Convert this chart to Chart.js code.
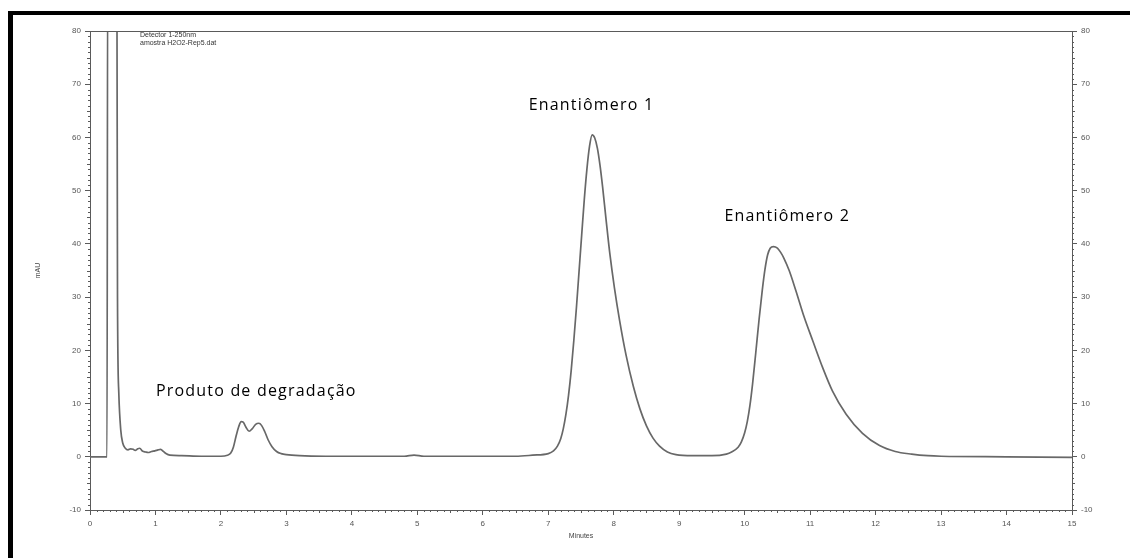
<!DOCTYPE html>
<html>
<head>
<meta charset="utf-8">
<script src="https://cdn.jsdelivr.net/npm/chart.js@4.4.1/dist/chart.umd.min.js"></script>
<style>
  html, body { margin: 0; padding: 0; background: #fff; }
  #wrap { position: relative; width: 1130px; height: 558px; overflow: hidden; }
  #frame { position: absolute; left: 8px; top: 11px; right: 0; bottom: 0;
           border-left: 5px solid #000; border-top: 4px solid #000; pointer-events: none; }
  canvas { display: block; }
</style>
</head>
<body>
<div id="wrap">
  <canvas id="chrom" width="1130" height="558"></canvas>
  <div id="frame"></div>
</div>
<script>
// Chromatogram trace: retention time (min) and detector response (mAU)
const retentionTime = [
  0, 0.26, 0.27, 0.41, 0.42, 0.44, 0.47, 0.50, 0.54, 0.58, 0.62, 0.66, 0.69, 0.73, 0.76,
  0.80, 0.85, 0.89, 0.94, 0.99, 1.04, 1.08, 1.12, 1.16, 1.22, 1.40, 1.70, 2.00,
  2.10, 2.15, 2.19, 2.23, 2.27, 2.31, 2.34, 2.38, 2.43, 2.48, 2.53, 2.58, 2.62, 2.67,
  2.72, 2.78, 2.85, 2.92, 3.00, 3.20, 3.60, 4.00, 4.80, 4.95, 5.10, 6.00, 6.50,
  6.76, 7.00, 7.08, 7.14, 7.19, 7.23, 7.27, 7.31, 7.35, 7.39, 7.43, 7.47, 7.51, 7.55,
  7.59, 7.63, 7.67, 7.71, 7.75, 7.79, 7.83, 7.88, 7.94, 8.01, 8.09, 8.19, 8.30, 8.40,
  8.50, 8.60, 8.70, 8.82, 8.95, 9.20, 9.50, 9.72, 9.80, 9.90, 9.95, 10.00, 10.04,
  10.08, 10.12, 10.17, 10.22, 10.27, 10.31, 10.35, 10.39, 10.44, 10.50, 10.55, 10.60,
  10.68, 10.78, 10.91, 11.04, 11.19, 11.34, 11.55, 11.80, 12.06, 12.30, 12.55, 12.80,
  13.00, 14.00, 15.00
];
const signalMAU = [
  0, 0, 95, 95, 30, 12, 5, 2.6, 1.6, 1.3, 1.5, 1.4, 1.2, 1.5, 1.6,
  1.1, 0.9, 0.8, 1.0, 1.1, 1.3, 1.4, 1.0, 0.6, 0.3, 0.2, 0.1, 0.1,
  0.3, 0.7, 1.8, 3.8, 5.6, 6.6, 6.5, 5.6, 4.8, 5.3, 6.1, 6.3, 5.9, 4.7,
  3.2, 1.9, 1.0, 0.6, 0.4, 0.2, 0.1, 0.1, 0.1, 0.3, 0.1, 0.1, 0.1,
  0.3, 0.6, 1.1, 2.0, 3.4, 5.3, 8.0, 11.6, 16.2, 21.8, 28.0, 34.8, 41.6, 48.3,
  54.0, 58.3, 60.5, 59.9, 58.0, 54.8, 50.7, 44.9, 38.2, 31.8, 25.6, 19.0, 13.2, 9.0,
  5.8, 3.5, 2.0, 0.9, 0.4, 0.2, 0.2, 0.5, 0.9, 1.8, 2.8, 4.5, 6.6,
  9.6, 13.6, 19.6, 25.8, 31.4, 35.2, 37.9, 39.2, 39.5, 39.2, 38.4, 37.3,
  35.0, 31.3, 26.2, 21.8, 16.8, 12.4, 8.0, 4.4, 2.1, 1.0, 0.5, 0.2,
  0.1, 0.0, -0.1
];

// Axis ranges
const timeRange = [0, 15];
const mauRange = [-10, 80];

// Peak labels placed in data coordinates (minutes, mAU)
const peakLabels = ['Produto de degradação', 'Enantiômero 1', 'Enantiômero 2'];
const peakLabelTime = [2.54, 7.66, 10.65];
const peakLabelMAU = [12.3, 66.1, 45.1];

// Run information in the top-left corner
const runInfo = ['Detector 1-250nm', 'amostra H2O2-Rep5.dat'];

const AXIS_COLOR = '#5a5a5a';
const TICK_FONT = { family: 'Liberation Sans', size: 8 };

const trace = retentionTime.map((t, i) => ({ x: t, y: signalMAU[i] }));

// Minor ticks, plot frame and text overlays
const decorations = {
  id: 'decorations',
  afterDraw(chart) {
    const { ctx, chartArea: a, scales } = chart;
    const xs = scales.x, yl = scales.y, yr = scales.y2;
    ctx.save();
    ctx.strokeStyle = AXIS_COLOR;
    ctx.lineWidth = 1;
    ctx.beginPath();
    // top edge of the plot frame
    ctx.moveTo(a.left, a.top + 0.5);
    ctx.lineTo(a.right, a.top + 0.5);
    // minor ticks on the time axis
    for (let i = timeRange[0] * 10; i <= timeRange[1] * 10; i++) {
      if (i % 10 === 0) continue;
      const px = Math.round(xs.getPixelForValue(i / 10)) + 0.5;
      const len = i % 5 === 0 ? 3 : 2;
      ctx.moveTo(px, a.bottom);
      ctx.lineTo(px, a.bottom + len);
    }
    // minor ticks on both response axes
    for (let v = mauRange[0]; v <= mauRange[1]; v++) {
      if (v % 10 === 0) continue;
      const len = v % 5 === 0 ? 3 : 2;
      const pl = Math.round(yl.getPixelForValue(v)) + 0.5;
      ctx.moveTo(a.left - len, pl);
      ctx.lineTo(a.left, pl);
      const pr = Math.round(yr.getPixelForValue(v)) + 0.5;
      ctx.moveTo(a.right, pr);
      ctx.lineTo(a.right + len, pr);
    }
    ctx.stroke();

    // axis titles
    ctx.fillStyle = '#444';
    ctx.font = '7px "Liberation Sans"';
    ctx.textAlign = 'center';
    ctx.textBaseline = 'middle';
    ctx.fillText('Minutes', (a.left + a.right) / 2, 536);
    ctx.save();
    ctx.translate(38, (a.top + a.bottom) / 2);
    ctx.rotate(-Math.PI / 2);
    ctx.fillText('mAU', 0, 0);
    ctx.restore();

    // run information
    ctx.textAlign = 'left';
    ctx.fillStyle = '#333';
    runInfo.forEach((line, i) => ctx.fillText(line, 140, 35 + i * 8.5));

    // peak labels
    ctx.fillStyle = '#000';
    ctx.font = '16px "Open Sans"';
    if ('letterSpacing' in ctx) ctx.letterSpacing = '1.2px';
    ctx.textAlign = 'center';
    peakLabels.forEach((txt, i) => {
      ctx.fillText(txt, xs.getPixelForValue(peakLabelTime[i]), yl.getPixelForValue(peakLabelMAU[i]));
    });
    ctx.restore();
  }
};

const yAxisCommon = {
  type: 'linear',
  min: mauRange[0],
  max: mauRange[1],
  ticks: { stepSize: 10, font: TICK_FONT, color: '#555', padding: 4 },
  grid: { drawOnChartArea: false, tickLength: 5, color: AXIS_COLOR },
  border: { display: true, color: AXIS_COLOR, width: 1 }
};

new Chart(document.getElementById('chrom'), {
  type: 'line',
  data: {
    datasets: [{
      data: trace,
      borderColor: '#686868',
      borderWidth: 1.7,
      pointRadius: 0,
      fill: false,
      cubicInterpolationMode: 'monotone',
      yAxisID: 'y'
    }]
  },
  options: {
    responsive: false,
    animation: false,
    devicePixelRatio: 1,
    layout: { padding: { top: 31, left: 0, right: 0, bottom: 0 } },
    plugins: { legend: { display: false }, tooltip: { enabled: false } },
    scales: {
      x: {
        type: 'linear',
        position: 'bottom',
        min: timeRange[0],
        max: timeRange[1],
        ticks: { stepSize: 1, font: TICK_FONT, color: '#555', padding: 4, maxRotation: 0 },
        grid: { drawOnChartArea: false, tickLength: 5, color: AXIS_COLOR },
        border: { display: true, color: AXIS_COLOR, width: 1 },
        afterFit(s) { s.height = 48; }
      },
      y: Object.assign({}, yAxisCommon, {
        position: 'left',
        afterFit(s) { s.width = 90; }
      }),
      y2: Object.assign({}, yAxisCommon, {
        position: 'right',
        display: true,
        afterFit(s) { s.width = 58; }
      })
    }
  },
  plugins: [decorations]
});
</script>
</body>
</html>
